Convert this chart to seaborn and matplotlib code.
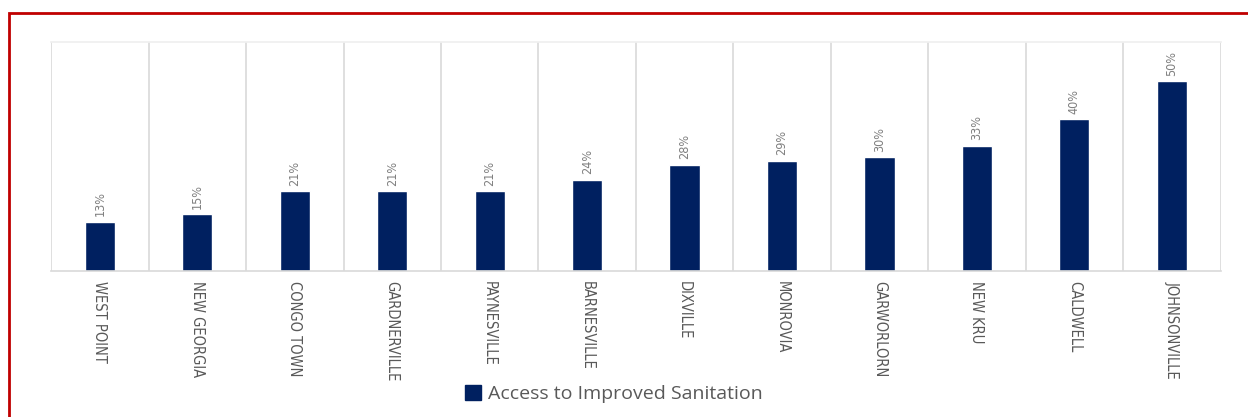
import matplotlib
matplotlib.use("Agg")
import matplotlib.pyplot as plt
import seaborn as sns
import pandas as pd
from matplotlib.patches import Rectangle, Patch

towns = ["WEST POINT", "NEW GEORGIA", "CONGO TOWN", "GARDNERVILLE", "PAYNESVILLE",
         "BARNESVILLE", "DIXVILLE", "MONROVIA", "GARWORLORN", "NEW KRU",
         "CALDWELL", "JOHNSONVILLE"]
access = [13, 15, 21, 21, 21, 24, 28, 29, 30, 33, 40, 50]
series_name = "Access to Improved Sanitation"

NAVY = "#002060"
GRAY = "#595959"
LABEL_GRAY = "#7f7f7f"
GRID = "#d9d9d9"

sns.set_theme(style="white")
plt.rcParams["font.family"] = ["DejaVu Sans"]

df = pd.DataFrame({"town": towns, "access": access})

fig, ax = plt.subplots(figsize=(12.48, 4.17), dpi=100)
fig.subplots_adjust(left=0.041, right=0.978, top=0.899, bottom=0.35)

sns.barplot(data=df, x="town", y="access", color=NAVY, width=0.31,
            saturation=1, ax=ax)

ax.set_ylim(0, 60.3)
ax.set_xlim(-0.5, len(towns) - 0.5)
ax.set_yticks([])
ax.set_xlabel("")
ax.set_ylabel("")

# vertical separators between categories
for b in range(len(towns) + 1):
    ax.axvline(b - 0.5, color=GRID, linewidth=1.2, zorder=0)

for side in ["left", "right"]:
    ax.spines[side].set_visible(False)
ax.spines["top"].set_color("#f0f0f0")
ax.spines["bottom"].set_color(GRID)
ax.spines["bottom"].set_linewidth(1.2)

ax.tick_params(axis="x", length=0, pad=7)
ax.set_xticks(range(len(towns)))
ax.set_xticklabels(towns, rotation=270, fontsize=10.5, color=GRAY,
                   va="top", ha="center", fontstretch="condensed",
                   fontweight="light")

ax.bar_label(ax.containers[0], labels=[f"{v}%" for v in access],
             rotation=90, padding=4, fontsize=9, color=LABEL_GRAY,
             fontstretch="condensed", fontweight="light")

ax.legend(handles=[Patch(facecolor=NAVY, edgecolor=NAVY)], labels=[series_name],
          loc="center", bbox_to_anchor=(0.492, 0.055), bbox_transform=fig.transFigure,
          frameon=False, handlelength=0.8, handleheight=0.8, handletextpad=0.4,
          prop={"family": ["Open Sans", "DejaVu Sans"], "size": 14,
                "stretch": "normal"})
for t in ax.get_legend().get_texts():
    t.set_color(GRAY)

# red outer frame, partially cut off at right and bottom like the reference
fig.patches.append(Rectangle((9 / 1248, -0.05), 1.2, 1 - 13 / 417 + 0.05,
                             transform=fig.transFigure, fill=False,
                             edgecolor="#c00000", linewidth=2))

fig.savefig("out.png", dpi=100)
